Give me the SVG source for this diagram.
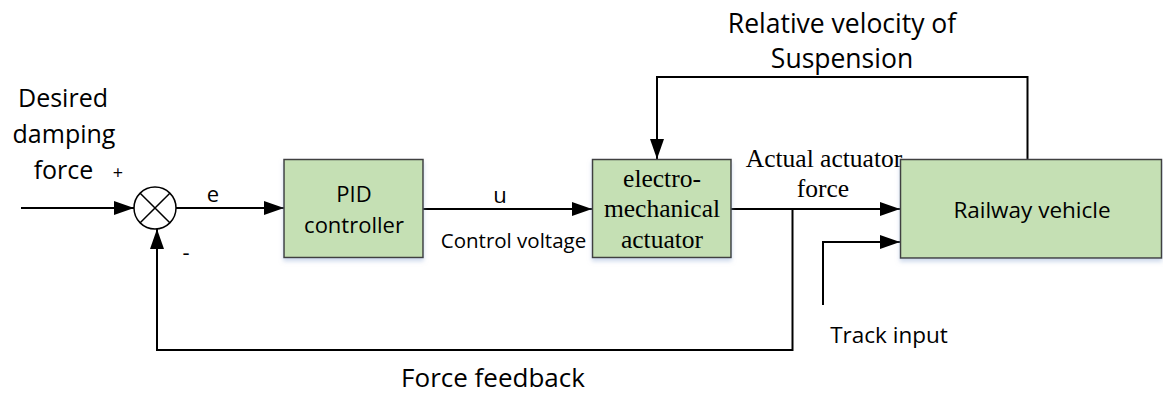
<svg xmlns="http://www.w3.org/2000/svg" width="1163" height="394" viewBox="0 0 1163 394">
<style>
.box{fill:#C5E0B4;stroke:#404040;stroke-width:1.5}
.ln{fill:none;stroke:#000;stroke-width:2}
.s{font-family:"Open Sans","Liberation Sans",sans-serif;fill:#000}
.t{font-family:"Liberation Serif","Times New Roman",serif;fill:#000}
</style>
<defs>
<marker id="ah" markerWidth="20" markerHeight="14" refX="20" refY="7" orient="auto" markerUnits="userSpaceOnUse">
<path d="M0,0 L20,7 L0,14 Z" fill="#000"/>
</marker>
<filter id="sh" x="-10%" y="-10%" width="120%" height="130%">
<feDropShadow dx="0" dy="3" stdDeviation="2" flood-color="#9DB4D8" flood-opacity="0.5"/>
</filter>
</defs>
<g id="connectors">
<path class="ln" d="M21,208 H134" marker-end="url(#ah)"/>
<path class="ln" d="M176,208 H284" marker-end="url(#ah)"/>
<path class="ln" d="M423,209 H592" marker-end="url(#ah)"/>
<path class="ln" d="M731,209 H900" marker-end="url(#ah)"/>
<path class="ln" d="M792.5,209 V350 H157 V229" marker-end="url(#ah)"/>
<path class="ln" d="M823,305 V242 H900" marker-end="url(#ah)"/>
<path class="ln" d="M1027.5,159 V77 H657 V159" marker-end="url(#ah)"/>
</g>
<g id="sum">
<circle cx="155" cy="208" r="21" fill="#fff" stroke="#000" stroke-width="1.5"/>
<path d="M140.2,193.2 L169.8,222.8 M169.8,193.2 L140.2,222.8" stroke="#000" stroke-width="1.5"/>
</g>
<g id="pid">
<rect class="box" x="284" y="159.5" width="139" height="98" filter="url(#sh)"/>
<text class="s" x="354" y="201.5" font-size="22" text-anchor="middle">PID</text>
<text class="s" x="354" y="233" font-size="22" text-anchor="middle">controller</text>
</g>
<g id="actuator">
<rect class="box" x="592.5" y="159.5" width="138.5" height="98" filter="url(#sh)"/>
<text class="t" x="662" y="187" font-size="25.5" text-anchor="middle">electro-</text>
<text class="t" x="662" y="217" font-size="25.5" text-anchor="middle">mechanical</text>
<text class="t" x="662" y="248" font-size="25.5" text-anchor="middle">actuator</text>
</g>
<g id="vehicle">
<rect class="box" x="900.5" y="159.5" width="261" height="98.5" filter="url(#sh)"/>
<text class="s" x="1032" y="218" font-size="22.5" text-anchor="middle">Railway vehicle</text>
</g>
<g id="labels">
<text class="s" x="63" y="106.5" font-size="25" text-anchor="middle">Desired</text>
<text class="s" x="64" y="142.5" font-size="25" text-anchor="middle">damping</text>
<text class="s" x="63.5" y="179" font-size="25" text-anchor="middle">force</text>
<text class="s" x="118" y="179" font-size="18" text-anchor="middle">+</text>
<text class="s" x="213" y="201.5" font-size="22" text-anchor="middle">e</text>
<text class="s" x="186" y="260" font-size="22" text-anchor="middle">-</text>
<text class="s" x="500" y="203" font-size="22" text-anchor="middle">u</text>
<text class="s" x="513.5" y="248" font-size="20.5" text-anchor="middle">Control voltage</text>
<text class="t" x="824" y="167" font-size="25.5" text-anchor="middle">Actual actuator</text>
<text class="t" x="823" y="197" font-size="25.5" text-anchor="middle">force</text>
<text class="s" x="842" y="33" font-size="26.5" text-anchor="middle">Relative velocity of</text>
<text class="s" x="842" y="68" font-size="26.5" text-anchor="middle">Suspension</text>
<text class="s" x="889" y="343" font-size="22.5" text-anchor="middle">Track input</text>
<text class="s" x="493" y="386.5" font-size="26" text-anchor="middle">Force feedback</text>
</g>
</svg>
